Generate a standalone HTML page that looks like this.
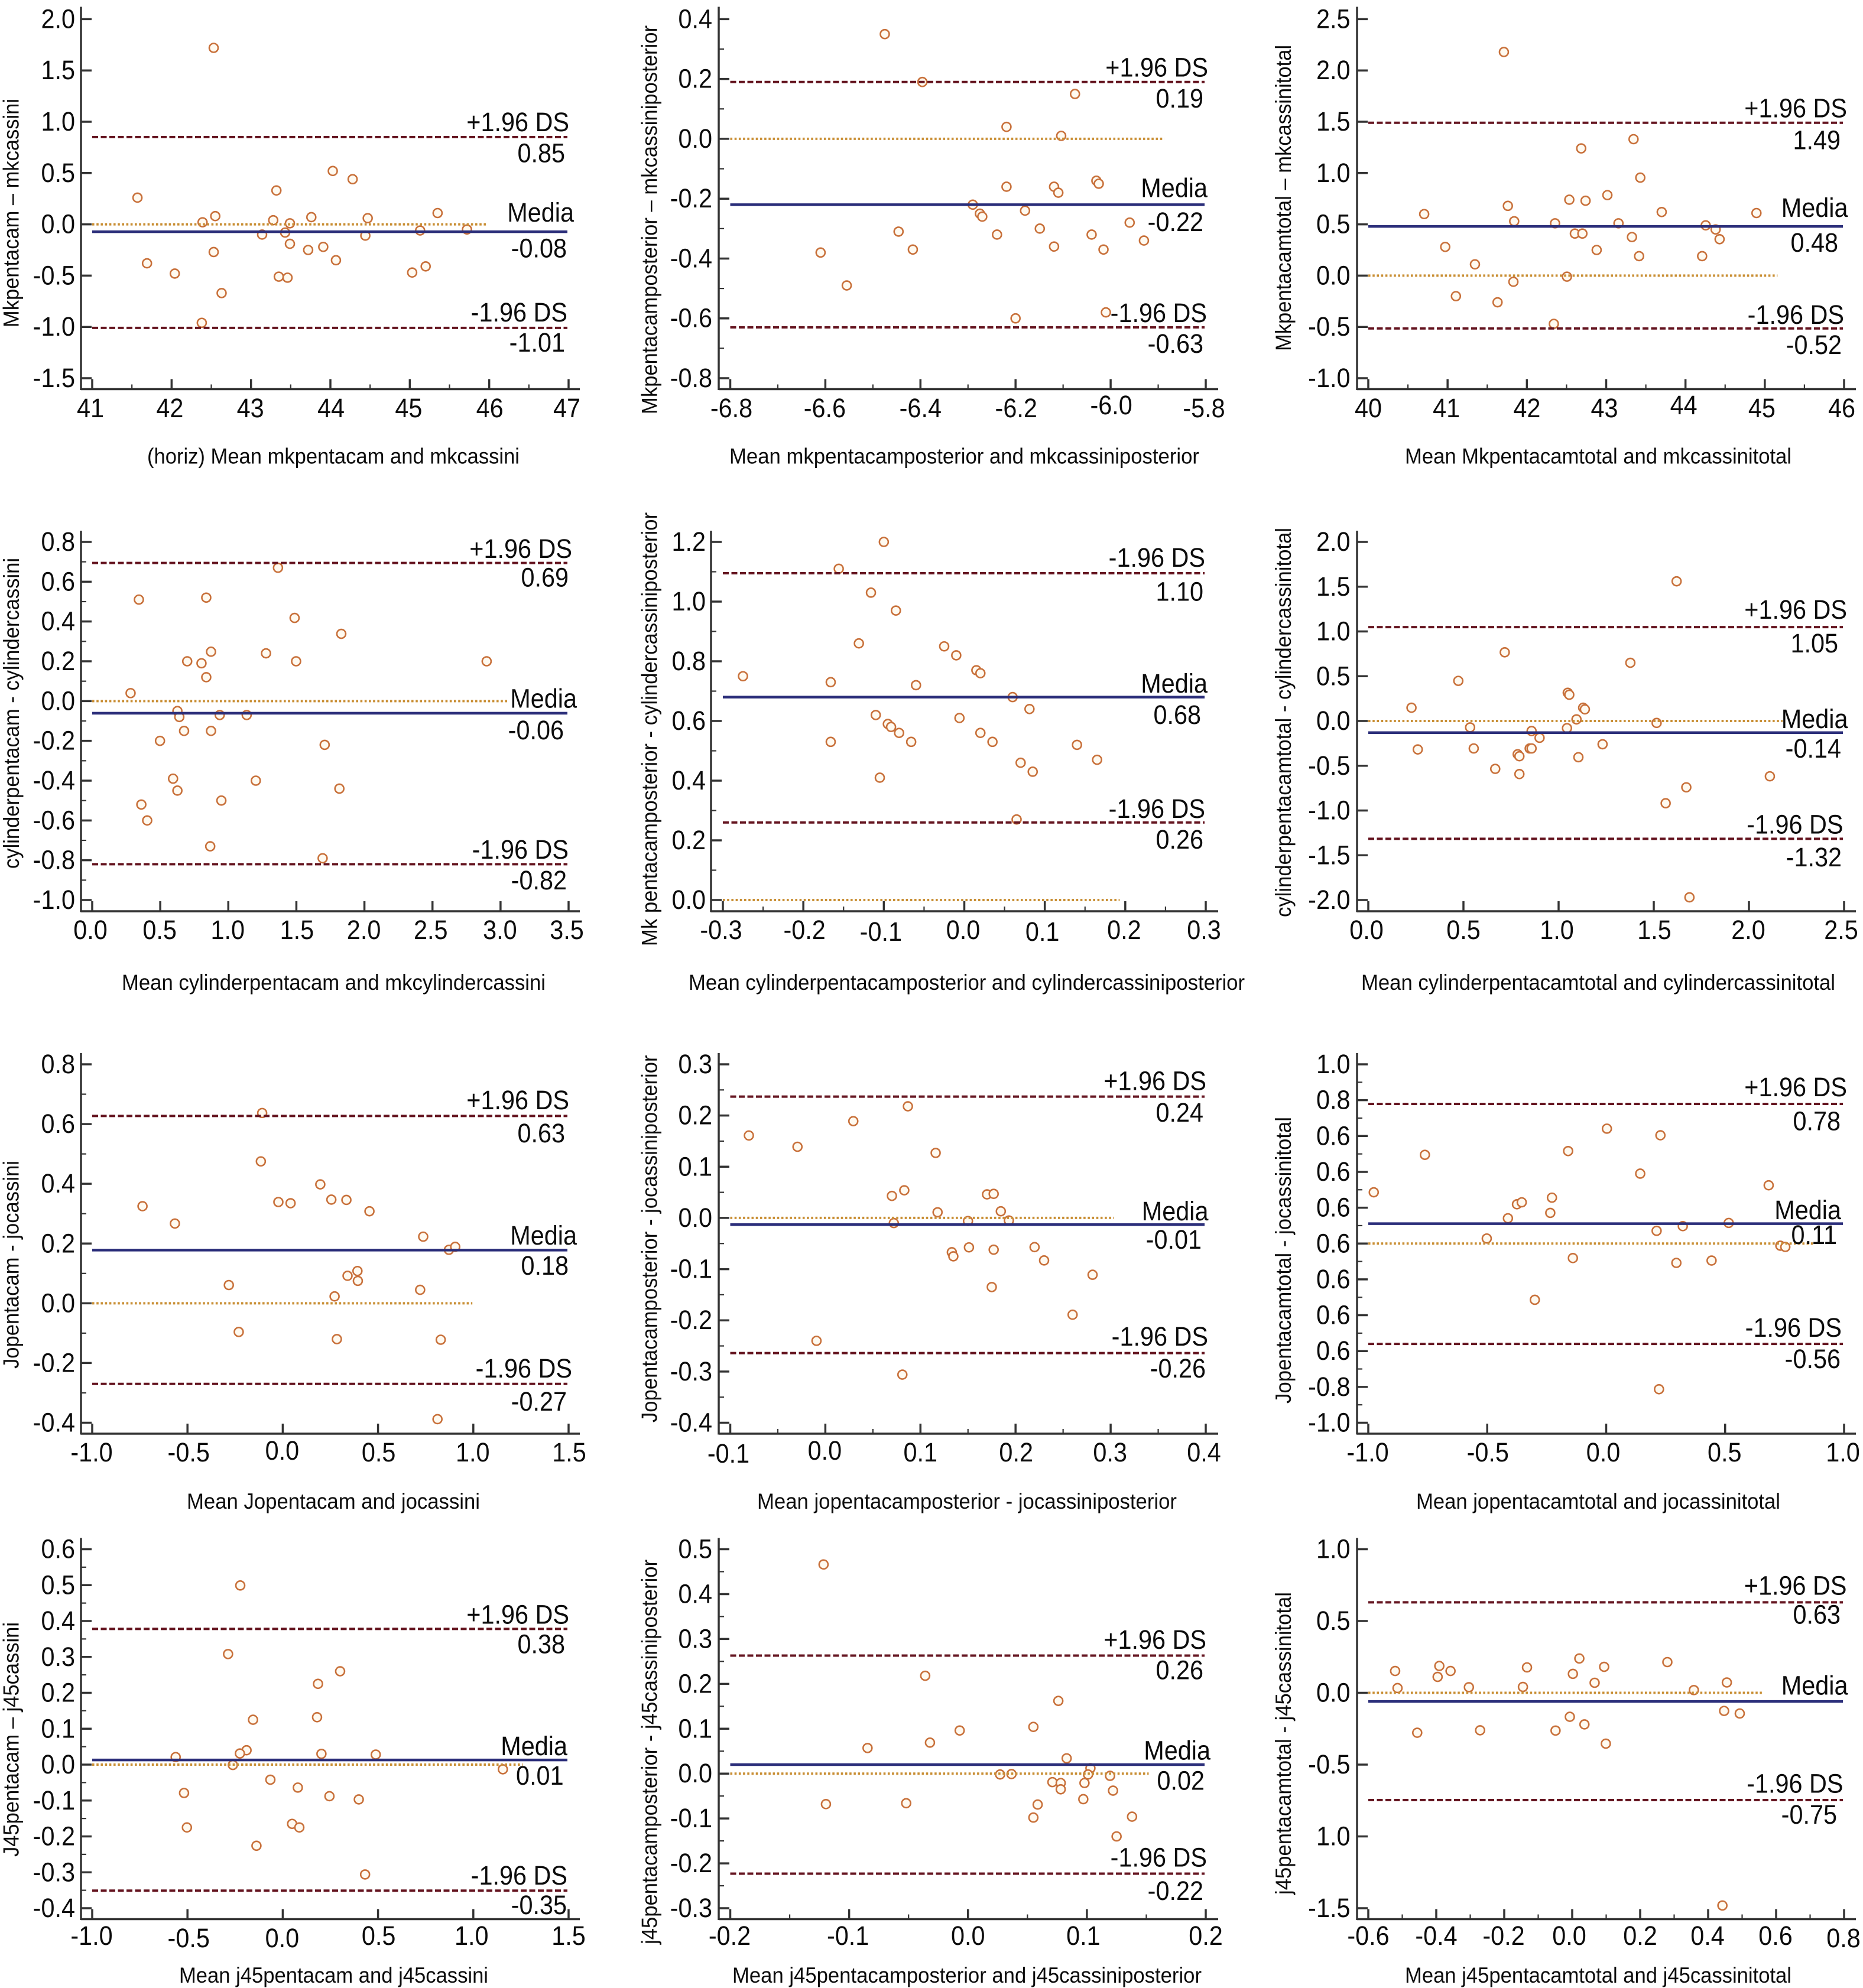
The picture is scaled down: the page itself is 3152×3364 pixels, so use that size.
<!DOCTYPE html>
<html lang="en">
<head>
<meta charset="utf-8">
<title>Bland-Altman plots</title>
<style>
html,body{margin:0;padding:0;background:#fff;}
svg{display:block;}
text{font-family:"Liberation Sans",Arial,sans-serif;fill:#0c0c0c;}
</style>
</head>
<body>
<svg id="chart" xmlns="http://www.w3.org/2000/svg" width="3152" height="3364" viewBox="0 0 3152 3364"></svg>
<script>
/* ---------- data: panel 1 ---------- */
const panel1X=[42.53,41.57,41.69,42.04,42.39,42.55,42.53,42.63,42.38,43.14,43.28,43.32,43.35,43.43,43.49,43.49,43.46,43.72,43.76,43.91,44.03,44.07,44.28,44.44,44.47,45.03,45.13,45.20,45.35,45.72];
const panel1Y=[1.72,.26,-.38,-.48,.02,.08,-.27,-.67,-.96,-.10,.04,.33,-.51,-.08,.01,-.19,-.52,-.25,.07,-.22,.52,-.35,.44,-.11,.06,-.47,-.06,-.41,.11,-.05];
const panel1XTicks=[41,42,43,44,45,46,47];
const panel1XLabels=['41','42','43','44','45','46','47'];
const panel1YTicks=[2,1.5,1,.5,0,-.5,-1,-1.5];
const panel1YLabels=['2.0','1.5','1.0','0.5','0.0','-0.5','-1.0','-1.5'];
const panel1Lines=[.85,-.072,-1.01];
const panel1LineValues=['0.85','-0.08','-1.01'];
const panel1LineNames=['+1.96 DS','Media','-1.96 DS'];
const panel1ZeroEnd=[45.96];
/* ---------- data: panel 2 ---------- */
const panel2X=[-6.475,-6.396,-6.075,-6.219,-6.104,-6.219,-6.119,-6.11,-6.03,-6.025,-6.29,-6.275,-6.27,-6.18,-6.446,-6.239,-6.149,-6.04,-5.96,-5.93,-6.416,-6.61,-6.119,-6.015,-6.555,-6.2,-6.01];
const panel2Y=[.35,.19,.15,.04,.01,-.16,-.16,-.18,-.14,-.15,-.22,-.25,-.26,-.24,-.31,-.32,-.30,-.32,-.28,-.34,-.37,-.38,-.36,-.37,-.49,-.60,-.58];
const panel2XTicks=[-6.8,-6.6,-6.4,-6.2,-6,-5.8];
const panel2XLabels=['-6.8','-6.6','-6.4','-6.2','-6.0','-5.8'];
const panel2YTicks=[.4,.2,0,-.2,-.4,-.6,-.8];
const panel2YLabels=['0.4','0.2','0.0','-0.2','-0.4','-0.6','-0.8'];
const panel2Lines=[.19,-.22,-.63];
const panel2LineValues=['0.19','-0.22','-0.63'];
const panel2LineNames=['+1.96 DS','Media','-1.96 DS'];
const panel2ZeroEnd=[-5.887];
/* ---------- data: panel 3 ---------- */
const panel3X=[41.71,43.345,42.685,43.43,43.015,42.535,42.74,41.76,40.705,43.70,44.895,41.84,42.355,43.155,44.255,42.605,42.7,44.38,43.325,44.43,40.97,42.88,43.415,44.21,41.345,42.505,41.83,41.105,41.63,42.34];
const panel3Y=[2.18,1.33,1.24,.955,.785,.74,.73,.68,.60,.62,.61,.53,.51,.51,.49,.41,.41,.45,.376,.355,.28,.25,.19,.19,.11,-.01,-.06,-.20,-.26,-.47];
const panel3XTicks=[40,41,42,43,44,45,46];
const panel3XLabels=['40','41','42','43','44','45','46'];
const panel3YTicks=[2.5,2,1.5,1,.5,0,-.5,-1];
const panel3YLabels=['2.5','2.0','1.5','1.0','0.5','0.0','-0.5','-1.0'];
const panel3Lines=[1.49,.48,-.515];
const panel3LineValues=['1.49','0.48','-0.52'];
const panel3LineNames=['+1.96 DS','Media','-1.96 DS'];
const panel3ZeroEnd=[45.16];
/* ---------- data: panel 4 ---------- */
const panel4X=[1.365,.343,.838,1.487,1.83,.873,.698,.803,1.277,1.498,2.898,.838,.282,.626,.64,.937,1.135,.675,.873,.498,1.708,.594,.626,1.202,1.816,.361,.949,.404,.867,1.693];
const panel4Y=[.67,.51,.52,.418,.338,.248,.2,.19,.24,.2,.2,.12,.04,-.05,-.08,-.07,-.07,-.15,-.15,-.2,-.22,-.39,-.45,-.40,-.44,-.52,-.5,-.6,-.73,-.79];
const panel4XTicks=[0,.5,1,1.5,2,2.5,3,3.5];
const panel4XLabels=['0.0','0.5','1.0','1.5','2.0','2.5','3.0','3.5'];
const panel4YTicks=[.8,.6,.4,.2,0,-.2,-.4,-.6,-.8,-1];
const panel4YLabels=['0.8','0.6','0.4','0.2','0.0','-0.2','-0.4','-0.6','-0.8','-1.0'];
const panel4Lines=[.694,-.061,-.82];
const panel4LineValues=['0.69','-0.06','-0.82'];
const panel4LineNames=['+1.96 DS','Media','-1.96 DS'];
const panel4ZeroEnd=[3.05];
/* ---------- data: panel 5 ---------- */
const panel5X=[-.1,-.156,-.116,-.085,-.131,-.025,-.01,.015,.02,-.275,-.166,-.06,.06,.081,-.11,-.006,-.095,-.091,-.081,.02,-.166,-.066,.035,.14,.165,.07,.085,-.105,.065];
const panel5Y=[1.2,1.11,1.03,.97,.86,.85,.82,.77,.76,.75,.73,.72,.68,.64,.62,.61,.59,.58,.56,.56,.53,.53,.53,.52,.47,.46,.43,.41,.27];
const panel5XTicks=[-.3,-.2,-.1,0,.1,.2,.3];
const panel5XLabels=['-0.3','-0.2','-0.1','0.0','0.1','0.2','0.3'];
const panel5YTicks=[1.2,1,.8,.6,.4,.2,0];
const panel5YLabels=['1.2','1.0','0.8','0.6','0.4','0.2','0.0'];
const panel5Lines=[1.095,.68,.26];
const panel5LineValues=['1.10','0.68','0.26'];
const panel5LineNames=['-1.96 DS','Media','-1.96 DS'];
const panel5ZeroEnd=[.193];
/* ---------- data: panel 6 ---------- */
const panel6X=[1.62,.717,1.377,.473,.227,1.048,1.056,1.129,1.138,1.094,1.515,.535,1.044,.858,.9,.26,.554,1.231,.848,.858,.785,.794,1.104,.667,.794,2.11,1.671,1.5625,1.6875];
const panel6Y=[1.56,.767,.65,.448,.148,.315,.293,.148,.13,.018,-.022,-.072,-.08,-.112,-.188,-.318,-.307,-.26,-.307,-.307,-.372,-.394,-.405,-.535,-.593,-.618,-.741,-.919,-1.97];
const panel6XTicks=[0,.5,1,1.5,2,2.5];
const panel6XLabels=['0.0','0.5','1.0','1.5','2.0','2.5'];
const panel6YTicks=[2,1.5,1,.5,0,-.5,-1,-1.5,-2];
const panel6YLabels=['2.0','1.5','1.0','0.5','0.0','-0.5','-1.0','-1.5','-2.0'];
const panel6Lines=[1.049,-.13,-1.316];
const panel6LineValues=['1.05','-0.14','-1.32'];
const panel6LineNames=['+1.96 DS','Media','-1.96 DS'];
const panel6ZeroEnd=[2.177];
/* ---------- data: panel 7 ---------- */
const panel7X=[-.108,-.115,.197,.255,.334,-.023,.041,.455,-.736,-.566,.737,.872,.905,.392,.34,.394,-.283,.272,.721,-.231,.284,.829,.812];
const panel7Y=[.637,.475,.398,.347,.346,.339,.335,.308,.325,.267,.223,.179,.189,.108,.092,.075,.061,.023,.045,-.096,-.12,-.122,-.388];
const panel7XTicks=[-1,-.5,0,.5,1,1.5];
const panel7XLabels=['-1.0','-0.5','0.0','0.5','1.0','1.5'];
const panel7YTicks=[.8,.6,.4,.2,0,-.2,-.4];
const panel7YLabels=['0.8','0.6','0.4','0.2','0.0','-0.2','-0.4'];
const panel7Lines=[.627,.178,-.27];
const panel7LineValues=['0.63','0.18','-0.27'];
const panel7LineNames=['+1.96 DS','Media','-1.96 DS'];
const panel7ZeroEnd=[.995];
/* ---------- data: panel 8 ---------- */
const panel8X=[.0868,.0294,-.0804,-.0293,.116,.07,.083,.17,.177,.118,.1845,.072,.15,.193,.133,.1346,.151,.177,.22,.23,.281,.175,.26,-.0093,.081];
const panel8Y=[.218,.189,.161,.139,.127,.043,.054,.046,.047,.011,.013,-.01,-.006,-.005,-.067,-.075,-.0575,-.062,-.057,-.083,-.111,-.135,-.189,-.24,-.306];
const panel8XTicks=[-.1,0,.1,.2,.3,.4];
const panel8XLabels=['-0.1','0.0','0.1','0.2','0.3','0.4'];
const panel8YTicks=[.3,.2,.1,0,-.1,-.2,-.3,-.4];
const panel8YLabels=['0.3','0.2','0.1','0.0','-0.1','-0.2','-0.3','-0.4'];
const panel8Lines=[.237,-.013,-.264];
const panel8LineValues=['0.24','-0.01','-0.26'];
const panel8LineNames=['+1.96 DS','Media','-1.96 DS'];
const panel8ZeroEnd=[.3035];
/* ---------- data: panel 9 ---------- */
const panel9X=[-.977,-.762,-.502,-.413,-.375,-.355,-.3,-.235,-.228,-.16,-.14,.003,.143,.212,.222,.228,.295,.322,.443,.515,.683,.732,.753];
const panel9Y=[.286,.495,.028,.141,.219,.23,-.314,.171,.256,.516,-.081,.641,.39,.071,-.813,.604,-.108,.097,-.095,.115,.325,-.012,-.019];
const panel9XTicks=[-1,-.5,0,.5,1];
const panel9XLabels=['-1.0','-0.5','0.0','0.5','1.0'];
const panel9YTicks=[1,.8,.6,.4,.2,0,-.2,-.4,-.6,-.8,-1];
const panel9YLabels=['1.0','0.8','0.6','0.6','0.6','0.6','0.6','0.6','0.6','-0.8','-1.0'];
const panel9Lines=[.779,.111,-.56];
const panel9LineValues=['0.78','0.11','-0.56'];
const panel9LineNames=['+1.96 DS','Media','-1.96 DS'];
const panel9ZeroEnd=[.878];
/* ---------- data: panel 10 ---------- */
const panel10X=[-.223,-.287,.301,.185,.18,-.156,-.19,-.225,-.562,.203,.488,-.262,1.155,-.065,.079,-.518,.245,.399,.049,.087,-.503,-.138,.432];
const panel10Y=[.499,.308,.26,.225,.132,.125,.04,.031,.021,.03,.028,-.001,-.013,-.042,-.064,-.079,-.088,-.097,-.165,-.175,-.175,-.226,-.306];
const panel10XTicks=[-1,-.5,0,.5,1,1.5];
const panel10XLabels=['-1.0','-0.5','0.0','0.5','1.0','1.5'];
const panel10YTicks=[.6,.5,.4,.3,.2,.1,0,-.1,-.2,-.3,-.4];
const panel10YLabels=['0.6','0.5','0.4','0.3','0.2','0.1','0.0','-0.1','-0.2','-0.3','-0.4'];
const panel10Lines=[.378,.013,-.351];
const panel10LineValues=['0.38','0.01','-0.35'];
const panel10LineNames=['+1.96 DS','Media','-1.96 DS'];
const panel10ZeroEnd=[1.259];
/* ---------- data: panel 11 ---------- */
const panel11X=[-.1215,-.036,.076,.055,-.007,-.0845,-.032,.083,.103,.027,.0366,.101,.1195,.071,.078,.098,.078,.122,.097,-.1195,-.052,.0586,.055,.138,.125];
const panel11Y=[.466,.218,.162,.104,.096,.057,.069,.034,.012,-.002,-.001,-.002,-.005,-.019,-.021,-.021,-.035,-.038,-.057,-.068,-.066,-.069,-.098,-.096,-.14];
const panel11XTicks=[-.2,-.1,0,.1,.2];
const panel11XLabels=['-0.2','-0.1','0.0','0.1','0.2'];
const panel11YTicks=[.5,.4,.3,.2,.1,0,-.1,-.2,-.3];
const panel11YLabels=['0.5','0.4','0.3','0.2','0.1','0.0','-0.1','-0.2','-0.3'];
const panel11Lines=[.263,.02,-.223];
const panel11LineValues=['0.26','0.02','-0.22'];
const panel11LineNames=['+1.96 DS','Media','-1.96 DS'];
const panel11ZeroEnd=[.152];
/* ---------- data: panel 12 ---------- */
const panel12X=[-.521,-.514,-.456,-.391,-.396,-.358,-.304,-.271,-.145,-.133,-.049,-.007,.002,.021,.036,.066,.094,.099,.28,.358,.447,.455,.493,.442];
const panel12Y=[.152,.033,-.278,.187,.111,.152,.039,-.261,.041,.177,-.263,-.167,.132,.239,-.22,.07,.181,-.354,.214,.019,-.126,.072,-.144,-1.481];
const panel12XTicks=[-.6,-.4,-.2,0,.2,.4,.6,.8];
const panel12XLabels=['-0.6','-0.4','-0.2','0.0','0.2','0.4','0.6','0.8'];
const panel12YTicks=[1,.5,0,-.5,-1,-1.5];
const panel12YLabels=['1.0','0.5','0.0','-0.5','1.0','-1.5'];
const panel12Lines=[.63,-.06,-.747];
const panel12LineValues=['0.63','','-0.75'];
const panel12LineNames=['+1.96 DS','Media','-1.96 DS'];
const panel12ZeroEnd=[.558];

/* ---------- layout (pixels & titles only, no data) ---------- */
const ROWS=[
 {top:11.5,yT:32.4,yB:640,axis:658.5,xBase:706,tBase:784.5},
 {top:898,yT:917,yB:1523,axis:1542,xBase:1589,tBase:1675},
 {top:1782,yT:1801,yB:2407.5,axis:2426,xBase:2473,tBase:2553},
 {top:2602.5,yT:2621.5,yB:3229,axis:3247.5,xBase:3291,tBase:3355}];
const COLS=[
 {ax:137,x0:156,x1:962,end:981,lab:127},
 {ax:1216,x0:1235.5,x1:2040,end:2061,lab:1205},
 {ax:2296,x0:2315,x1:3120,end:3140,lab:2284.5}];
const COL2B={ax:1203,x0:1223,x1:2040,end:2061,lab:1194};
const panels=[
 {r:0,c:COLS[0],xs:panel1X,ys:panel1Y,xT:panel1XTicks,xL:panel1XLabels,yT:panel1YTicks,yL:panel1YLabels,ln:panel1Lines,lv:panel1LineValues,nm:panel1LineNames,z:panel1ZeroEnd,mx:1,my:0,
  nudge:[[-3,0],[-3,0],[-1,0],[1,0],[-2,0],[1,0],[-3,0]],
  xt:'(horiz) Mean mkpentacam and mkcassini',xp:[249,879],yt:'Mkpentacam – mkcassini',yp:[31.5,167,554],
  pos:[[963,222],[956,274.6],[971,375],[959,435.7],[960,544],[956,595]]},
 {r:0,c:COLS[1],xs:panel2X,ys:panel2Y,xT:panel2XTicks,xL:panel2XLabels,yT:panel2YTicks,yL:panel2YLabels,ln:panel2Lines,lv:panel2LineValues,nm:panel2LineNames,z:panel2ZeroEnd,mx:1,my:1,
  nudge:[[2,0],[-1,0],[0,0],[1,0],[1,-5],[-3,0]],
  xt:'Mean mkpentacamposterior and mkcassiniposterior',xp:[1234,2029],yt:'Mkpentacamposterior – mkcassiniposterior',yp:[1111.6,43,701],
  pos:[[2044,129.7],[2036,182],[2043,333.7],[2036,391],[2042,545],[2036,597]]},
 {r:0,c:COLS[2],xs:panel3X,ys:panel3Y,xT:panel3XTicks,xL:panel3XLabels,yT:panel3YTicks,yL:panel3YLabels,ln:panel3Lines,lv:panel3LineValues,nm:panel3LineNames,z:panel3ZeroEnd,mx:1,my:0,
  nudge:[[0,0],[-2,0],[0,0],[-3,0],[-3,-5],[-5,0],[-4,0]],
  xt:'Mean Mkpentacamtotal and mkcassinitotal',xp:[2377,3031],yt:'Mkpentacamtotal – mkcassinitotal',yp:[2184,76,594],
  pos:[[3125,198.7],[3114,252.6],[3126.5,367],[3110,426],[3120,548],[3116,599]]},
 {r:1,c:COLS[0],xs:panel4X,ys:panel4Y,xT:panel4XTicks,xL:panel4XLabels,yT:panel4YTicks,yL:panel4YLabels,ln:panel4Lines,lv:panel4LineValues,nm:panel4LineNames,z:panel4ZeroEnd,mx:0,my:1,
  nudge:[[-3,0],[-1,0],[-1,0],[1,0],[-1,0],[-3,0],[-1,0],[-3,0]],
  xt:'Mean cylinderpentacam and mkcylindercassini',xp:[206,923],yt:'cylinderpentacam - cylindercassini',yp:[32,944,1470],
  pos:[[968,944],[962,992.5],[976,1197.6],[954,1251],[962,1453],[959,1505]]},
 {r:1,c:COL2B,xs:panel5X,ys:panel5Y,xT:panel5XTicks,xL:panel5XLabels,yT:panel5YTicks,yL:panel5YLabels,ln:panel5Lines,lv:panel5LineValues,nm:panel5LineNames,z:panel5ZeroEnd,mx:1,my:1,
  nudge:[[-3,0],[2,0],[-5,3],[-2,0],[-4,3],[-2,0],[-3,0]],
  xt:'Mean cylinderpentacamposterior and cylindercassiniposterior',xp:[1165,2106],yt:'Mk pentacamposterior - cylindercassiniposterior',yp:[1111.6,867,1601],
  pos:[[2039,959],[2036,1016.6],[2043,1172],[2032,1225],[2039,1384],[2036,1436]]},
 {r:1,c:COLS[2],xs:panel6X,ys:panel6Y,xT:panel6XTicks,xL:panel6XLabels,yT:panel6YTicks,yL:panel6YLabels,ln:panel6Lines,lv:panel6LineValues,nm:panel6LineNames,z:panel6ZeroEnd,mx:0,my:0,
  nudge:[[-3,0],[0,0],[-3,0],[1,0],[-1,0],[-5,0]],
  xt:'Mean cylinderpentacamtotal and cylindercassinitotal',xp:[2303,3105],yt:'cylinderpentacamtotal - cylindercassinitotal',yp:[2184,893,1552],
  pos:[[3125,1047],[3110,1104],[3126.5,1232],[3115,1282],[3118.5,1410.5],[3116,1466]]},
 {r:2,c:COLS[0],xs:panel7X,ys:panel7Y,xT:panel7XTicks,xL:panel7XLabels,yT:panel7YTicks,yL:panel7YLabels,ln:panel7Lines,lv:panel7LineValues,nm:panel7LineNames,z:panel7ZeroEnd,mx:0,my:1,
  nudge:[[-1,0],[2,0],[-1,-3],[1,0],[-1,0],[1,0]],
  xt:'Mean Jopentacam and jocassini',xp:[316,812],yt:'Jopentacam - jocassini',yp:[31.5,1964,2316],
  pos:[[963,1877],[956,1933],[976,2106],[962,2157],[968,2331],[959,2387]]},
 {r:2,c:COLS[1],xs:panel8X,ys:panel8Y,xT:panel8XTicks,xL:panel8XLabels,yT:panel8YTicks,yL:panel8YLabels,ln:panel8Lines,lv:panel8LineValues,nm:panel8LineNames,z:panel8ZeroEnd,mx:1,my:1,
  nudge:[[-3,2],[-1,-3],[0,0],[1,0],[-1,0],[-3,0]],
  xt:'Mean jopentacamposterior - jocassiniposterior',xp:[1281,1991],yt:'Jopentacamposterior - jocassiniposterior',yp:[1111.6,1785.5,2407],
  pos:[[2041,1844.5],[2036,1898],[2044.5,2065],[2033,2113],[2044,2277],[2040,2331]]},
 {r:2,c:COLS[2],xs:panel9X,ys:panel9Y,xT:panel9XTicks,xL:panel9XLabels,yT:panel9YTicks,yL:panel9YLabels,ln:panel9Lines,lv:panel9LineValues,nm:panel9LineNames,z:panel9ZeroEnd,mx:0,my:1,
  nudge:[[-1,0],[1,0],[-5,0],[-1,0],[-2,0]],
  xt:'Mean jopentacamtotal and jocassinitotal',xp:[2396,3012],yt:'Jopentacamtotal - jocassinitotal',yp:[2184,1890,2375],
  pos:[[3125,1855],[3114,1912.5],[3115,2063],[3108,2105],[3116,2262],[3114,2315]]},
 {r:3,c:COLS[0],xs:panel10X,ys:panel10Y,xT:panel10XTicks,xL:panel10XLabels,yT:panel10YTicks,yL:panel10YLabels,ln:panel10Lines,lv:panel10LineValues,nm:panel10LineNames,z:panel10ZeroEnd,mx:0,my:1,
  nudge:[[-1,0],[2,4],[-1,4],[1,0],[-3,0],[0,0]],
  xt:'Mean j45pentacam and j45cassini',xp:[303,826],yt:'J45pentacam – j45cassini',yp:[31.5,2745,3142],
  pos:[[963,2747.5],[956,2797.5],[960,2970],[953.6,3020],[960,3189],[959,3239]]},
 {r:3,c:COLS[1],xs:panel11X,ys:panel11Y,xT:panel11XTicks,xL:panel11XLabels,yT:panel11YTicks,yL:panel11YLabels,ln:panel11Lines,lv:panel11LineValues,nm:panel11LineNames,z:panel11ZeroEnd,mx:1,my:1,
  nudge:[[-1,0],[-2,0],[0,0],[-6,0],[0,0]],
  xt:'Mean j45pentacamposterior and j45cassiniposterior',xp:[1239,2033],yt:'j45pentacamposterior - j45cassiniposterior',yp:[1111.6,2639,3290],
  pos:[[2041,2790],[2036,2841.5],[2048,2977.5],[2038,3028.5],[2042,3158.5],[2036,3215]]},
 {r:3,c:COLS[2],xs:panel12X,ys:panel12Y,xT:panel12XTicks,xL:panel12XLabels,yT:panel12YTicks,yL:panel12YLabels,ln:panel12Lines,lv:panel12LineValues,nm:panel12LineNames,z:panel12ZeroEnd,mx:1,my:0,
  nudge:[[0,0],[0,0],[-1,0],[-5,0],[0,0],[-1,0],[-1,0],[-1,4]],
  xt:'Mean j45pentacamtotal and j45cassinitotal',xp:[2377,3031],yt:'j45pentacamtotal - j45cassinitotal',yp:[2184,2694,3206],
  pos:[[3124.5,2698.5],[3114,2747.5],[3126.5,2867.5],[3108,2920],[3118.5,3033.5],[3108,3086]]}
];

/* ---------- rendering ---------- */
const NS='http://www.w3.org/2000/svg';
const root=document.getElementById('chart');
const AXIS='#333333', LIMIT='#651520', MEAN='#2b2e7a', ZERO='#c98f35', POINT='#c8703a';
const LABEL_FONT=45, LABEL_SQUEEZE=0.92;
function mk(parent,tag,attrs,content){
  const el=document.createElementNS(NS,tag);
  for(const k in attrs){el.setAttribute(k,attrs[k]);}
  if(content!==undefined){el.textContent=content;}
  parent.appendChild(el);
  return el;
}
function squeezed(x,y){return 'translate('+x+' '+y+') scale('+LABEL_SQUEEZE+' 1)';}
function linear(d0,d1,r0,r1){return function(v){return r0+(v-d0)*(r1-r0)/(d1-d0);};}

panels.forEach(function(p){
  const row=ROWS[p.r], c=p.c;
  const g=mk(root,'g',{});
  
  
  const sx=linear(p.xT[0],p.xT[p.xT.length-1],c.x0,c.x1);
  const sy=linear(p.yT[0],p.yT[p.yT.length-1],row.yT,row.yB);

  /* axes */
  const yLine=mk(g,'line',{x1:c.ax,x2:c.ax,y1:row.top,y2:row.axis+1.5,stroke:AXIS,'stroke-width':3.5});
  
  
  const xLine=mk(g,'line',{x1:c.ax,x2:c.end,y1:row.axis,y2:row.axis,stroke:AXIS,'stroke-width':3.5});
  
  

  /* x ticks */
  p.xT.forEach(function(v,i){
    const t=mk(g,'line',{x1:sx(v),x2:sx(v),y1:row.axis-17,y2:row.axis,stroke:AXIS,'stroke-width':3.5});
    
    
    const n=p.nudge[i];
    const l=mk(g,'text',{'text-anchor':'middle','font-size':LABEL_FONT,transform:squeezed(sx(v)+n[0],row.xBase+n[1])},p.xL[i]);
    
    
    if(p.mx && i<p.xT.length-1){
      const mv=(v+p.xT[i+1])/2;
      const m=mk(g,'line',{x1:sx(mv),x2:sx(mv),y1:row.axis-8,y2:row.axis,stroke:AXIS,'stroke-width':2.2});
      
      
    }
  });

  /* y ticks */
  p.yT.forEach(function(v,i){
    const t=mk(g,'line',{x1:c.ax,x2:c.ax+18,y1:sy(v),y2:sy(v),stroke:AXIS,'stroke-width':3.5});
    
    
    const l=mk(g,'text',{'text-anchor':'end','font-size':LABEL_FONT,transform:squeezed(c.lab,sy(v)+15)},p.yL[i]);
    
    
    if(p.my && i<p.yT.length-1){
      const mv=(v+p.yT[i+1])/2;
      const m=mk(g,'line',{x1:c.ax,x2:c.ax+9,y1:sy(mv),y2:sy(mv),stroke:AXIS,'stroke-width':2.2});
      
      
    }
  });

  /* points */
  p.xs.forEach(function(v,i){
    const pt=mk(g,'circle',{cx:sx(v),cy:sy(p.ys[i]),r:7.5,fill:'#fffaf0',stroke:POINT,'stroke-width':2.6});
    
    
  });

  /* reference lines */
  const lineEnd=c.x1-2;
  const zero=mk(g,'line',{x1:c.x0,x2:sx(p.z[0]),y1:sy(0),y2:sy(0),stroke:ZERO,'stroke-width':4,'stroke-dasharray':'3.6 3.6'});
  
  
  const upper=mk(g,'line',{x1:c.x0,x2:lineEnd,y1:sy(p.ln[0]),y2:sy(p.ln[0]),stroke:LIMIT,'stroke-width':4,'stroke-dasharray':'10 4.5'});
  
  
  const mean=mk(g,'line',{x1:c.x0,x2:lineEnd,y1:sy(p.ln[1]),y2:sy(p.ln[1]),stroke:MEAN,'stroke-width':4.5});
  
  
  const lower=mk(g,'line',{x1:c.x0,x2:lineEnd,y1:sy(p.ln[2]),y2:sy(p.ln[2]),stroke:LIMIT,'stroke-width':4,'stroke-dasharray':'10 4.5'});
  
  

  /* line annotations */
  p.nm.forEach(function(name,i){
    const np=p.pos[i*2], vp=p.pos[i*2+1];
    const a=mk(g,'text',{'text-anchor':'end','font-size':LABEL_FONT,transform:squeezed(np[0],np[1])},name);
    
    
    if(p.lv[i]!==''){
      const b=mk(g,'text',{'text-anchor':'end','font-size':LABEL_FONT,transform:squeezed(vp[0],vp[1])},p.lv[i]);
      
      
    }
  });

  /* titles */
  const xTitle=mk(g,'text',{x:p.xp[0],y:row.tBase,'font-size':37,textLength:p.xp[1]-p.xp[0],lengthAdjust:'spacingAndGlyphs'},p.xt);
  
  
  const yTitle=mk(g,'text',{x:p.yp[0],y:p.yp[2],'font-size':37,textLength:p.yp[2]-p.yp[1],lengthAdjust:'spacingAndGlyphs',transform:'rotate(-90 '+p.yp[0]+' '+p.yp[2]+')'},p.yt);
  
  
});
</script>
</body>
</html>
